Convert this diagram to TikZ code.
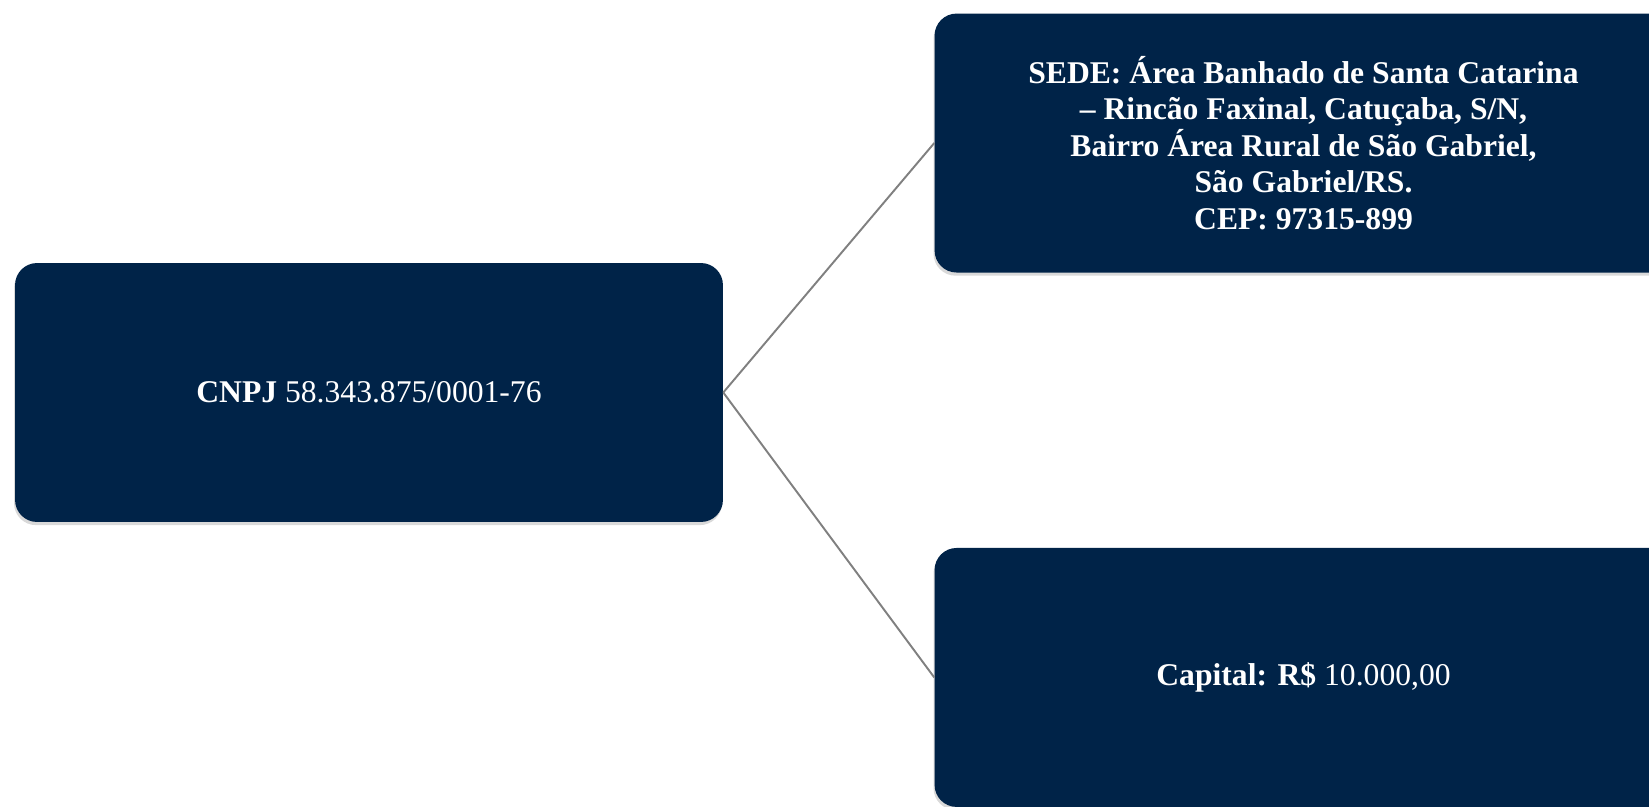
\documentclass[tikz,border=0pt]{standalone}
\usepackage{fontspec}
\setmainfont{Liberation Serif}
\usetikzlibrary{positioning}
\usetikzlibrary{shadows}
\definecolor{navy}{HTML}{002348}
\newcommand{\boxfont}{\fontsize{18}{20.8}\selectfont}

\begin{document}
\begin{tikzpicture}[
  x=0.02cm, y=-0.02cm,
  node distance=4.22cm,
  infobox/.style={fill=navy, rounded corners=0.44cm, text=white, align=center,
    inner sep=0pt, minimum height=5.18cm, font=\boxfont,
    drop shadow={shadow xshift=-0.6pt, shadow yshift=-1.8pt, opacity=0.3}},
  link/.style={draw=gray, line width=1.1pt}
]
\useasboundingbox (0,0) rectangle (1649,807);
\clip (0,0) rectangle (1649,807);

\node[infobox, minimum width=14.16cm] (cnpj) at (369,392.5) {\textbf{CNPJ} 58.343.875/0001-76};
\node[infobox, minimum width=14.76cm, font=\boxfont\bfseries, right=of cnpj, yshift=4.99cm] (sede)
  {SEDE: Área Banhado de Santa Catarina\\ – Rincão Faxinal, Catuçaba, S/N,\\
   Bairro Área Rural de São Gabriel,\\ São Gabriel/RS.\\ CEP: 97315-899};
\node[infobox, minimum width=14.76cm, right=of cnpj, yshift=-5.7cm] (capital)
  {\textbf{Capital: R\$} 10.000,00};

\draw[link] (cnpj.east) -- (sede.west);
\draw[link] (cnpj.east) -- (capital.west);

\end{tikzpicture}
\end{document}
